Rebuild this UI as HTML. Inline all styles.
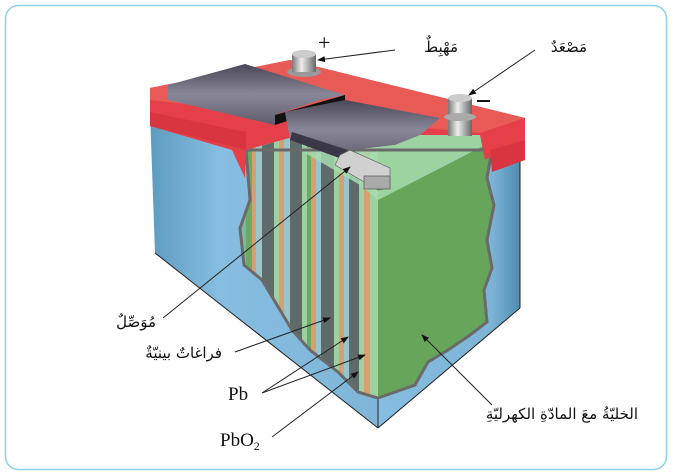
<!DOCTYPE html>
<html><head><meta charset="utf-8"><style>
html,body{margin:0;padding:0;background:#fff;}
svg{display:block}
text{font-family:"Liberation Serif","DejaVu Serif",serif;fill:#111}
.ar{font-family:"DejaVu Sans","Liberation Sans",sans-serif;font-size:15px}
</style></head><body>
<svg width="673" height="476" viewBox="0 0 673 476" xmlns="http://www.w3.org/2000/svg">
<defs>
<linearGradient id="bl" x1="0" y1="0" x2="1" y2="0"><stop offset="0" stop-color="#5d9cc0"/><stop offset="0.3" stop-color="#86bde0"/><stop offset="1" stop-color="#7fb6d8"/></linearGradient>
<linearGradient id="br" x1="0" y1="0" x2="1" y2="0"><stop offset="0" stop-color="#86bde0"/><stop offset="0.8" stop-color="#7db4d6"/><stop offset="1" stop-color="#4f8db0"/></linearGradient>
<linearGradient id="pl" x1="0" y1="0" x2="0" y2="1"><stop offset="0" stop-color="#4a4756"/><stop offset="0.5" stop-color="#8a8898"/><stop offset="1" stop-color="#5f5c6c"/></linearGradient>
<linearGradient id="tm" x1="0" y1="0" x2="1" y2="0"><stop offset="0" stop-color="#777"/><stop offset="0.4" stop-color="#eee"/><stop offset="1" stop-color="#666"/></linearGradient>
<marker id="a" markerWidth="8" markerHeight="8" refX="7" refY="4" orient="auto" markerUnits="userSpaceOnUse"><path d="M0,1 L8,4 L0,7 Z" fill="#111"/></marker>
</defs>
<rect x="5.5" y="5.5" width="661" height="464" rx="13" fill="#fff" stroke="#8fd0ee" stroke-width="1.5"/>
<polygon points="150,112 155,253 378,428 378,210" fill="url(#bl)"/>
<polygon points="378,428 520,308 520,138 378,210" fill="url(#br)"/>
<line x1="155" y1="253" x2="378" y2="428" stroke="#222"/>
<line x1="378" y1="428" x2="520" y2="308" stroke="#222"/>
<line x1="378" y1="395" x2="378" y2="428" stroke="#222"/>
<line x1="520" y1="138" x2="520" y2="308" stroke="#222"/>
<clipPath id="cut"><polygon points="246,150 250,200 240,228 244,265 262,280 292,330 310,350 338,372 358,392 378,398 415,385 428,362 448,350 470,335 487,322 484,290 492,268 487,240 494,205 487,178 492,150 480,130 300,135"/></clipPath>
<g clip-path="url(#cut)">
<rect x="230" y="120" width="150" height="290" fill="#7fb5a8"/>
<rect x="246" y="120" width="6" height="290" fill="#6aaa63"/><rect x="252" y="120" width="4" height="290" fill="#d8a070"/><rect x="256" y="120" width="6" height="290" fill="#98c6cc"/><rect x="262" y="120" width="12" height="290" fill="#5f6a6a"/><rect x="274" y="120" width="5" height="290" fill="#9fd0a0"/><rect x="279" y="120" width="5" height="290" fill="#d8a070"/>
<rect x="284" y="120" width="6" height="290" fill="#98c6cc"/><rect x="290" y="120" width="12" height="290" fill="#5f6a6a"/><rect x="302" y="120" width="5" height="290" fill="#9fd0a0"/><rect x="307" y="120" width="4" height="290" fill="#6aaa63"/><rect x="311" y="120" width="5" height="290" fill="#d8a070"/>
<rect x="316" y="120" width="5" height="290" fill="#98c6cc"/><rect x="321" y="120" width="13" height="290" fill="#5f6a6a"/><rect x="334" y="120" width="5" height="290" fill="#9fd0a0"/><rect x="339" y="120" width="5" height="290" fill="#d8a070"/>
<rect x="344" y="120" width="5" height="290" fill="#98c6cc"/><rect x="349" y="120" width="10" height="290" fill="#5f6a6a"/><rect x="359" y="120" width="5" height="290" fill="#9fd0a0"/><rect x="364" y="120" width="6" height="290" fill="#d8a070"/><rect x="370" y="120" width="8" height="290" fill="#9fd0a0"/>
<rect x="378" y="120" width="120" height="290" fill="#66a55a"/>
<polygon points="300,150 360,185 378,200 495,140 495,120 420,120" fill="#a6dcae" opacity="0.85"/>
</g>
<polygon points="246,150 250,200 240,228 244,265 262,280 292,330 310,350 338,372 358,392 378,398 415,385 428,362 448,350 470,335 487,322 484,290 492,268 487,240 494,205 487,178 492,150" fill="none" stroke="#6a6a6a" stroke-width="3"/>
<!-- red lid -->
<polygon points="150,112 150,88 290,60 525,118 525,140 485,160 480,135 300,135 246,150 245,178 232,150 150,126" fill="#e5404a"/>
<polygon points="150,88 290,60 525,118 480,133 310,118 150,100" fill="#e85a55"/>
<polygon points="150,112 246,132 246,150 150,126" fill="#d93540"/>
<polygon points="490,150 525,140 525,160 492,172" fill="#d93540"/>
<!-- plates -->
<polygon points="168,85 245,64 345,95 320,100 275,115 275,125 168,100" fill="url(#pl)"/>
<polygon points="275,115 345,95 345,102 275,125" fill="#111"/>
<polygon points="285,112 345,100 440,118 420,135 395,145 350,150 345,160 290,140" fill="url(#pl)"/>
<polygon points="290,140 345,160 348,150 292,132" fill="#3a3846"/>
<!-- connector -->
<polygon points="340,155 350,150 390,168 390,188 378,190 335,165" fill="#d0d0d0" stroke="#666" stroke-width="0.7"/>
<rect x="364" y="176" width="26" height="13" fill="#aaa" stroke="#555" stroke-width="0.7"/>
<!-- terminals -->
<ellipse cx="304" cy="72" rx="17" ry="5" fill="#999"/>
<rect x="292" y="54" width="24" height="18" fill="url(#tm)"/>
<ellipse cx="304" cy="54" rx="12" ry="4" fill="#ccc"/>
<rect x="448" y="98" width="24" height="38" fill="url(#tm)"/>
<ellipse cx="460" cy="117" rx="16" ry="4" fill="#aaa"/>
<ellipse cx="460" cy="98" rx="12" ry="4" fill="#ccc"/>
<text x="318" y="50" font-size="22" font-family="Liberation Sans">+</text>
<rect x="477" y="100" width="13" height="2" fill="#111"/>
<g stroke="#222" stroke-width="1" fill="none">
<line x1="395" y1="50" x2="318" y2="60" marker-end="url(#a)"/>
<line x1="535" y1="50" x2="469" y2="95" marker-end="url(#a)"/>
<line x1="163" y1="318" x2="350" y2="167" marker-end="url(#a)"/>
<line x1="235" y1="352" x2="330" y2="318" marker-end="url(#a)"/>
<line x1="262" y1="393" x2="348" y2="337" marker-end="url(#a)"/>
<line x1="262" y1="393" x2="365" y2="355" marker-end="url(#a)"/>
<line x1="272" y1="437" x2="358" y2="372" marker-end="url(#a)"/>
<line x1="492" y1="405" x2="422" y2="335" marker-end="url(#a)"/>
</g>
<text class="ar" x="458" y="52" text-anchor="start" direction="rtl" font-size="16">مَهْبِطٌ</text>
<text class="ar" x="587" y="52" text-anchor="start" direction="rtl" font-size="16">مَصْعَدٌ</text>
<text class="ar" x="156" y="327" text-anchor="start" direction="rtl" font-size="16">مُوَصِّلٌ</text>
<text class="ar" x="222" y="358" text-anchor="start" direction="rtl">فراغاتٌ بينيّةٌ</text>
<text x="228" y="400" font-size="19">Pb</text>
<text x="220" y="446" font-size="19">PbO<tspan font-size="12" dy="4">2</tspan></text>
<text class="ar" x="638" y="419" text-anchor="start" direction="rtl">الخليّةُ معَ المادّةِ الكهرليّةِ</text>
</svg>
</body></html>
